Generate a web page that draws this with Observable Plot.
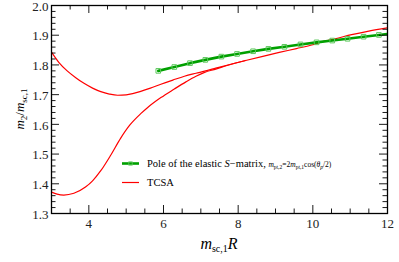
<!DOCTYPE html>
<html><head><meta charset="utf-8">
<script src="https://cdn.jsdelivr.net/npm/d3@7"></script>
<script src="https://cdn.jsdelivr.net/npm/@observablehq/plot@0.6"></script>
<style>body{margin:0;background:#fff}</style>
</head><body><div id="chart"></div>
<script>
// Tick values
const xLabelTicks = [4, 6, 8, 10, 12];
const xMinorTicks = [3.5, 4.5, 5, 5.5, 6.5, 7, 7.5, 8.5, 9, 9.5, 10.5, 11, 11.5];
const yLabelTicks = [1.3, 1.4, 1.5, 1.6, 1.7, 1.8, 1.9, 2.0];
const yMajorTicks = [1.4, 1.5, 1.6, 1.7, 1.8, 1.9];
const yMinorTicks = [1.32,1.34,1.36,1.38,1.42,1.44,1.46,1.48,1.52,1.54,1.56,1.58,1.62,1.64,1.66,1.68,1.72,1.74,1.76,1.78,1.82,1.84,1.86,1.88,1.92,1.94,1.96,1.98];

// S-matrix pole (green): markers and line
const poleX = [5.86, 6.29, 6.71, 7.12, 7.55, 7.97, 8.40, 8.81, 9.24, 9.67, 10.10, 10.52, 10.93, 11.36, 11.77, 12.19];
const poleY = [1.780, 1.793, 1.806, 1.817, 1.828, 1.837, 1.846, 1.854, 1.861, 1.869, 1.876, 1.882, 1.888, 1.895, 1.901, 1.907];

// TCSA upper branch (red)
const tcsaUpperX = [3.0, 3.2, 3.42, 3.65, 3.87, 4.1, 4.32, 4.55, 4.77, 5.0, 5.2, 5.39, 5.65, 5.93, 6.25, 6.56, 6.87, 7.1, 7.4, 7.7, 8.2, 8.66, 9.1, 9.56, 10.0, 10.28, 10.6, 11.04, 11.5, 12.0];
const tcsaUpperY = [1.843, 1.808, 1.780, 1.757, 1.738, 1.722, 1.710, 1.702, 1.698, 1.699, 1.704, 1.711, 1.722, 1.735, 1.749, 1.762, 1.772, 1.779, 1.789, 1.799, 1.815, 1.829, 1.842, 1.855, 1.868, 1.879, 1.888, 1.902, 1.914, 1.925];

// TCSA lower branch (red)
const tcsaLowerX = [3.0, 3.15, 3.33, 3.6, 3.91, 4.1, 4.32, 4.59, 4.85, 5.1, 5.39, 5.57, 5.93, 6.29, 6.6, 6.87, 7.1, 7.4, 7.7, 8.2];
const tcsaLowerY = [1.372, 1.365, 1.362, 1.368, 1.389, 1.410, 1.444, 1.497, 1.553, 1.598, 1.636, 1.656, 1.690, 1.719, 1.743, 1.762, 1.775, 1.786, 1.798, 1.815];

const pole = poleX.map((x, i) => ({x, y: poleY[i]}));
const upper = tcsaUpperX.map((x, i) => ({x, y: tcsaUpperY[i]}));
const lower = tcsaLowerX.map((x, i) => ({x, y: tcsaLowerY[i]}));

const mL = 51, mR = 12, mT = 5, mB = 49, W = 399, H = 262;
const iW = W - mL - mR, iH = H - mT - mB;
const major = 8, minor = 4.5;
const FONT = "Liberation Serif";

const svg = Plot.plot({
  width: W, height: H,
  marginLeft: mL, marginRight: mR, marginTop: mT, marginBottom: mB,
  x: {domain: [3, 12]},
  y: {domain: [1.3, 2.0]},
  style: {background: "white", color: "black"},
  marks: [
    Plot.line(lower, {x: "x", y: "y", stroke: "#ff0000", strokeWidth: 1.2, curve: "monotone-x", clip: true}),
    Plot.line(upper, {x: "x", y: "y", stroke: "#ff0000", strokeWidth: 1.2, curve: "monotone-x", clip: true}),
    Plot.line(pole, {x: "x", y: "y", stroke: "#00a000", strokeWidth: 2.6, clip: true}),
    Plot.dot(pole, {x: "x", y: "y", symbol: "square", r: 2.6, stroke: "#5cc85c", strokeWidth: 1, fill: "none", clip: true}),
    // inward ticks: bottom & top
    Plot.ruleX(xLabelTicks, {insetTop: iH - major, stroke: "black", strokeWidth: 0.9}),
    Plot.ruleX(xMinorTicks, {insetTop: iH - minor, stroke: "black", strokeWidth: 0.9}),
    Plot.ruleX(xLabelTicks, {insetBottom: iH - major, stroke: "black", strokeWidth: 0.9}),
    Plot.ruleX(xMinorTicks, {insetBottom: iH - minor, stroke: "black", strokeWidth: 0.9}),
    // inward ticks: left & right
    Plot.ruleY(yMajorTicks, {insetRight: iW - major, stroke: "black", strokeWidth: 0.9}),
    Plot.ruleY(yMinorTicks, {insetRight: iW - minor, stroke: "black", strokeWidth: 0.9}),
    Plot.ruleY(yMajorTicks, {insetLeft: iW - major, stroke: "black", strokeWidth: 0.9}),
    Plot.ruleY(yMinorTicks, {insetLeft: iW - minor, stroke: "black", strokeWidth: 0.9}),
    Plot.frame({stroke: "black", strokeWidth: 1.3}),
    Plot.axisX(xLabelTicks, {tickSize: 0, tickPadding: 5, label: null, fontSize: 13, fill: "#222"}),
    Plot.axisY(yLabelTicks, {tickSize: 0, tickPadding: 3, dy: 1, tickFormat: d3.format(".1f"), label: null, fontSize: 13, fill: "#222"})
  ]
});

const s = d3.select(svg);
// x axis label
const xl = s.append("text").attr("x", mL + iW / 2).attr("y", 249)
  .attr("text-anchor", "middle").attr("font-size", 16).attr("fill", "black");
xl.append("tspan").attr("font-style", "italic").text("m");
xl.append("tspan").attr("font-size", 10).attr("dy", 3).text("sc,1");
xl.append("tspan").attr("font-style", "italic").attr("dy", -3).text("R");

// y axis label
const yl = s.append("text").attr("transform", `translate(24,${mT + iH / 2}) rotate(-90)`)
  .attr("text-anchor", "middle").attr("font-size", 13).attr("fill", "black");
yl.append("tspan").attr("font-style", "italic").text("m");
yl.append("tspan").attr("font-size", 9).attr("dy", 2.5).text("2");
yl.append("tspan").attr("dy", -2.5).text("/");
yl.append("tspan").attr("font-style", "italic").text("m");
yl.append("tspan").attr("font-size", 9).attr("dy", 2.5).text("sc,1");

// legend
const lg = s.append("g").attr("font-size", 10.5).attr("fill", "black").attr("text-anchor", "start");
lg.append("line").attr("x1", 122).attr("x2", 139).attr("y1", 163.5).attr("y2", 163.5)
  .attr("stroke", "#00a000").attr("stroke-width", 2.6);
lg.append("rect").attr("x", 128.8).attr("y", 161.8).attr("width", 3.4).attr("height", 3.4)
  .attr("fill", "none").attr("stroke", "#5cc85c").attr("stroke-width", 0.8);
lg.append("line").attr("x1", 122).attr("x2", 139).attr("y1", 182.5).attr("y2", 182.5)
  .attr("stroke", "#ff0000").attr("stroke-width", 1.2);
const t1 = lg.append("text").attr("x", 147).attr("y", 167);
t1.append("tspan").text("Pole of the elastic ");
t1.append("tspan").attr("font-style", "italic").text("S");
t1.append("tspan").text("\u2212matrix, ");
const mathSize = 7.5, subSize = 5.5;
t1.append("tspan").attr("font-size", mathSize).attr("font-style", "italic").text("m");
t1.append("tspan").attr("font-size", subSize).attr("dy", 1.5).text("pt,2");
t1.append("tspan").attr("font-size", mathSize).attr("dy", -1.5).text("=2");
t1.append("tspan").attr("font-size", mathSize).attr("font-style", "italic").text("m");
t1.append("tspan").attr("font-size", subSize).attr("dy", 1.5).text("pt,1");
t1.append("tspan").attr("font-size", mathSize).attr("dy", -1.5).text("cos(");
t1.append("tspan").attr("font-size", mathSize).attr("font-style", "italic").text("\u03b8");
t1.append("tspan").attr("font-size", subSize).attr("font-style", "italic").attr("dy", 1.5).text("p");
t1.append("tspan").attr("font-size", mathSize).attr("dy", -1.5).text("/2)");
lg.append("text").attr("x", 147).attr("y", 186).text("TCSA");

// force the serif face on every text element
s.attr("font-family", FONT);
s.selectAll("text, tspan, g").attr("font-family", FONT).style("font-family", FONT);

document.getElementById("chart").appendChild(svg);
</script>
</body></html>
